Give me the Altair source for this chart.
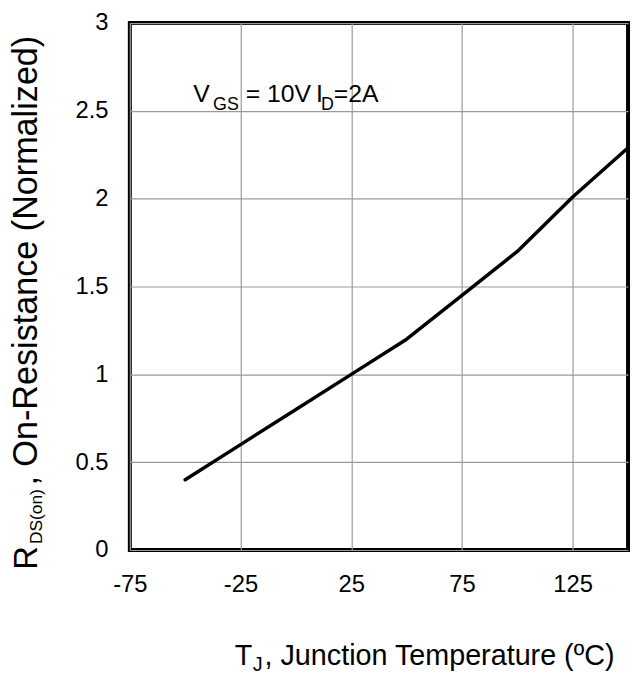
import altair as alt
import pandas as pd

# Data
temps = [-50, -25, 0, 25, 50, 75, 100, 125, 150]
rdson = [0.40, 0.60, 0.80, 1.00, 1.20, 1.45, 1.70, 2.01, 2.29]

x_ticks = [-75, -25, 25, 75, 125]
y_ticks = [0, 0.5, 1, 1.5, 2, 2.5, 3]

# text pieces
x_title_main = "T"
x_title_sub = "J"
x_title_rest = ", Junction Temperature (ºC)"
y_title_main = "R"
y_title_sub = "DS(on)"
y_title_rest = ", On-Resistance (Normalized)"
ann_parts = ["V", "GS", "= 10V", "I", "D", "=2A"]

FONT = "Liberation Sans, Arial, sans-serif"

df = pd.DataFrame({"T": temps, "R": rdson})

W, H = 503, 532

base = alt.Chart(df).encode(
    x=alt.X("T:Q", scale=alt.Scale(domain=[-75, 150], nice=False, zero=False),
            axis=alt.Axis(values=x_ticks, labelExpr="'' + datum.value", title=None, grid=True,
                          labelFlush=False, labelBaseline="alphabetic", labelPadding=42,
                          labelFont=FONT, labelFontSize=24)),
    y=alt.Y("R:Q", scale=alt.Scale(domain=[0, 3], nice=False),
            axis=alt.Axis(values=y_ticks, format="~g", title=None, grid=True,
                          labelFlush=False, labelPadding=22, labelFont=FONT, labelFontSize=24)),
)

line = base.mark_line(color="black", strokeWidth=3.5, strokeCap="round", strokeJoin="round")


def txt(s, x, y, size, angle=0, font=FONT):
    d = pd.DataFrame({"s": [s]})
    return alt.Chart(d).mark_text(
        align="left", baseline="alphabetic", font=font, fontSize=size,
        color="black", angle=angle
    ).encode(text="s:N", x=alt.value(x), y=alt.value(y))


texts = [
    # x title
    txt(x_title_main, 106, 648, 29),
    txt(x_title_sub, 124, 654, 20),
    txt(x_title_rest, 136, 648, 29),
    # y title (rotated)
    txt(y_title_main, -94, 552, 33, angle=270),
    txt(y_title_sub, -89, 526, 17.5, angle=270),
    txt(y_title_rest, -94, 467, 34.5, angle=270),
    # annotation
    txt(ann_parts[0], 64, 80, 25),
    txt(ann_parts[1], 84, 88, 18),
    txt(ann_parts[2], 117, 80, 25),
    txt(ann_parts[3], 188, 80, 25),
    txt(ann_parts[4], 193, 88, 18),
    txt(ann_parts[5], 206, 80, 25),
]

chart = alt.layer(line, *texts).properties(
    width=W, height=H,
    autosize=alt.AutoSizeParams(type="none"),
    padding={"left": 123, "top": 12, "right": 4, "bottom": 122},
).configure_view(
    stroke="black", strokeWidth=4
).configure_axis(
    domain=False, ticks=False, tickSize=0, gridColor="#9a9a9a", gridWidth=1.2,
    labelColor="black"
)

chart.save("out.html", embed_options={"renderer": "svg", "actions": False})
